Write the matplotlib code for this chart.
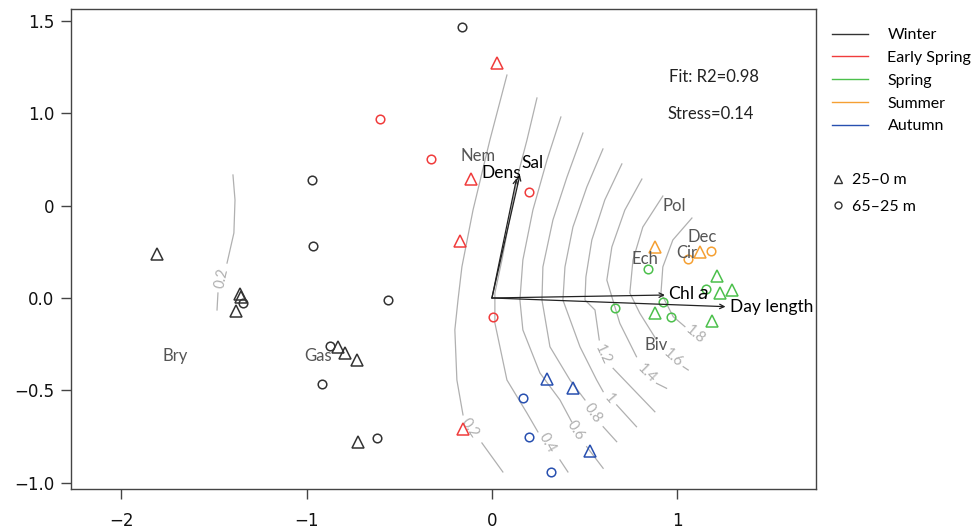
import numpy as np
import matplotlib
matplotlib.use('Agg')
import matplotlib.pyplot as plt
from matplotlib.lines import Line2D

# site scores (NMDS1, NMDS2), by season; tri = 25-0 m, circ = 65-25 m
winter_tri = [(-1.809, 0.238), (-1.359, 0.022), (-1.354, 0.005), (-1.382, -0.070),
              (-0.829, -0.267), (-0.793, -0.296), (-0.730, -0.336), (-0.721, -0.780)]
winter_circ = [(-0.163, 1.469), (-0.969, 0.639), (-0.964, 0.282), (-1.345, -0.025),
               (-0.559, -0.011), (-0.874, -0.258), (-0.919, -0.467), (-0.619, -0.758)]
espring_tri = [(0.025, 1.274), (-0.115, 0.643), (-0.173, 0.310), (-0.158, -0.712)]
espring_circ = [(-0.604, 0.969), (-0.331, 0.753), (0.201, 0.576), (0.007, -0.101)]
spring_tri = [(1.215, 0.119), (1.230, 0.029), (1.293, 0.043), (0.879, -0.083), (1.187, -0.123)]
spring_circ = [(0.840, 0.155), (1.154, 0.050), (0.921, -0.024), (0.666, -0.054), (0.964, -0.103)]
summer_tri = [(0.879, 0.274), (1.122, 0.249)]
summer_circ = [(1.056, 0.210), (1.180, 0.256)]
autumn_tri = [(0.295, -0.439), (0.435, -0.489), (0.529, -0.827)]
autumn_circ = [(0.169, -0.540), (0.201, -0.751), (0.318, -0.940)]

seasons = ['Winter', 'Early Spring', 'Spring', 'Summer', 'Autumn']
season_cols = ['#333333', '#f03c3c', '#4cc04c', '#f5a033', '#2850b0']
season_tri = [winter_tri, espring_tri, spring_tri, summer_tri, autumn_tri]
season_circ = [winter_circ, espring_circ, spring_circ, summer_circ, autumn_circ]

# env fit arrows
env_names = ['Dens', 'Sal', 'Chl $\\it{a}$', 'Day length']
env_tips = [(0.133, 0.648), (0.151, 0.666), (0.933, 0.016), (1.26, -0.047)]
env_lab_pos = [(0.048, 0.675), (0.218, 0.733), (1.063, 0.022), (1.51, -0.047)]

# species labels
spp = ['Nem', 'Pol', 'Dec', 'Cir', 'Ech', 'Biv', 'Bry', 'Gas']
spp_pos = [(-0.074, 0.769), (0.984, 0.50), (1.132, 0.332), (1.05, 0.245),
           (0.826, 0.211), (0.888, -0.254), (-1.707, -0.314), (-0.94, -0.314)]

# ordisurf contours: (level, part before label, label pos, angle, part after)
contours = [
    ('0.2', [(-1.397, 0.666), (-1.386, 0.531), (-1.392, 0.352), (-1.429, 0.189)],
     (-1.456, 0.108), 78, [(-1.478, 0.027), (-1.483, -0.065)]),
    ('0.2', [(0.081, 1.207), (-0.011, 0.855), (-0.102, 0.476), (-0.162, 0.168), (-0.183, -0.011),
             (-0.20, -0.173), (-0.189, -0.444), (-0.156, -0.633)],
     (-0.119, -0.704), -55, [(-0.054, -0.785), (0.059, -0.942)]),
    ('0.4', [(0.243, 1.083), (0.189, 0.855), (0.140, 0.666), (0.054, 0.206), (0.016, 0.027),
             (0.016, -0.135), (0.081, -0.444), (0.189, -0.623), (0.248, -0.725)],
     (0.297, -0.785), -60, [(0.367, -0.877), (0.410, -0.942)]),
    ('0.6', [(0.372, 0.980), (0.297, 0.747), (0.221, 0.476), (0.167, 0.206), (0.151, -0.011),
             (0.167, -0.173), (0.259, -0.406), (0.367, -0.552), (0.43, -0.67)],
     (0.448, -0.715), -57, [(0.511, -0.805), (0.60, -0.922)]),
    ('0.8', [(0.491, 0.893), (0.405, 0.655), (0.329, 0.422), (0.275, 0.168), (0.270, -0.011),
             (0.313, -0.264), (0.421, -0.444), (0.502, -0.552)],
     (0.546, -0.624), -55, [(0.60, -0.697), (0.673, -0.778)]),
    ('1', [(0.599, 0.807), (0.512, 0.601), (0.437, 0.384), (0.394, 0.168), (0.383, -0.011),
           (0.475, -0.264), (0.565, -0.444), (0.60, -0.507)],
     (0.633, -0.543), -50, [(0.673, -0.579), (0.78, -0.697)]),
    ('1.2', [(0.701, 0.726), (0.609, 0.531), (0.539, 0.314), (0.507, 0.114), (0.502, -0.011),
             (0.556, -0.065), (0.579, -0.227)],
     (0.60, -0.309), -65, [(0.654, -0.381), (0.879, -0.616)]),
    ('1.4', [(0.809, 0.644), (0.717, 0.476), (0.647, 0.276), (0.62, 0.097), (0.69, -0.137),
             (0.78, -0.318)],
     (0.834, -0.408), -45, [(0.888, -0.462), (0.942, -0.489)]),
    ('1.6', [(0.922, 0.552), (0.814, 0.384), (0.761, 0.206), (0.744, 0.027), (0.798, -0.083),
             (0.888, -0.227)],
     (0.978, -0.327), -42, [(1.032, -0.372), (1.059, -0.39)]),
    ('1.8', [(1.079, 0.433), (0.976, 0.314), (0.922, 0.168), (0.912, 0.027), (0.978, -0.101),
             (1.041, -0.155)],
     (1.095, -0.20), -40, []),
]

yticks = [1.5, 1.0, 0.5, 0.0, -0.5, -1.0]
ytick_labels = ['1.5', '1.0', '0', '0.0', '\u22120.5', '\u22121.0']
xticks = [-2, -1, 0, 1]
xtick_labels = ['\u22122', '\u22121', '0', '1']

txt_font = 'Lato'
grey_c = '#b0b0b0'

fig = plt.figure(figsize=(9.76, 5.29), dpi=100)
ax = fig.add_axes([0.0727, 0.075, 0.7633, 0.9074])

# contours
for lev, partA, lpos, ang, partB in contours:
    for part in (partA, partB):
        if len(part) > 1:
            p = np.array(part)
            ax.plot(p[:, 0], p[:, 1], color=grey_c, lw=0.9, zorder=1)
    ax.text(lpos[0], lpos[1], lev, rotation=ang, ha='center', va='center',
            color=grey_c, fontsize=10.5, family=txt_font, rotation_mode='anchor', zorder=1)

# points
for col, tri, circ in zip(season_cols, season_tri, season_circ):
    t = np.array(tri)
    c = np.array(circ)
    ax.plot(t[:, 0], t[:, 1], ls='none', marker='^', ms=8, mfc='none', mec=col, mew=1.1, zorder=3)
    ax.plot(c[:, 0], c[:, 1], ls='none', marker='o', ms=6.2, mfc='none', mec=col, mew=1.1, zorder=3)

# arrows
for name, tip, lp in zip(env_names, env_tips, env_lab_pos):
    ax.annotate('', xy=tip, xytext=(0, 0),
                arrowprops=dict(arrowstyle='->', lw=0.9, color='#222222',
                                shrinkA=0, shrinkB=0, mutation_scale=8), zorder=4)
    ax.text(lp[0], lp[1], name, ha='center', va='center', fontsize=12.5,
            family=txt_font, color='black', zorder=5)

for name, pos in zip(spp, spp_pos):
    ax.text(pos[0], pos[1], name, ha='center', va='center', fontsize=12,
            family=txt_font, color='#555555', zorder=5)

ax.text(1.199, 1.198, 'Fit: R2=0.98', ha='center', va='center', fontsize=12, family=txt_font, color='#222222')
ax.text(1.178, 0.996, 'Stress=0.14', ha='center', va='center', fontsize=12, family=txt_font, color='#222222')

ax.set_xlim(-2.271, 1.748)
ax.set_ylim(-1.036, 1.563)
ax.set_xticks(xticks)
ax.set_xticklabels(xtick_labels)
ax.set_yticks(yticks)
ax.set_yticklabels(ytick_labels)
ax.tick_params(axis='x', length=7, width=1, colors='#444444', labelcolor='#111111', labelsize=12, pad=9)
ax.tick_params(axis='y', length=7, width=1, colors='#444444', labelcolor='#111111', labelsize=12, pad=5)
for s in ax.spines.values():
    s.set_color('#444444')
    s.set_linewidth(1)

# legends
h1 = [Line2D([], [], color=c, lw=1) for c in season_cols]
leg1 = fig.legend(h1, seasons, loc='upper left', bbox_to_anchor=(0.852, 0.947),
                  frameon=False, borderpad=0, borderaxespad=0, handlelength=2.3,
                  handletextpad=1.2, labelspacing=0.54, prop={'family': txt_font, 'size': 11.5})
h2 = [Line2D([], [], ls='none', marker='^', ms=6, mfc='none', mec='#333333', mew=1),
      Line2D([], [], ls='none', marker='o', ms=5, mfc='none', mec='#333333', mew=1)]
leg2 = fig.legend(h2, ['25\u20130 m', '65\u201325 m'], loc='upper left', bbox_to_anchor=(0.852, 0.6725),
                  frameon=False, borderpad=0, borderaxespad=0, handlelength=0.8,
                  handletextpad=0.5, labelspacing=0.75, prop={'family': txt_font, 'size': 11.5})

fig.savefig('out.png', dpi=100)
